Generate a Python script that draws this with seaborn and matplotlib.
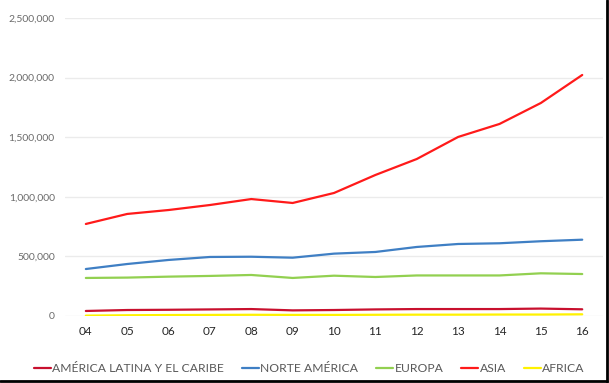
import matplotlib
matplotlib.use("Agg")
import matplotlib.pyplot as plt
import matplotlib.ticker as mticker
from matplotlib.lines import Line2D
import pandas as pd
import seaborn as sns

years = ["04", "05", "06", "07", "08", "09", "10", "11", "12", "13", "14", "15", "16"]

latam = [42000, 50000, 52000, 55000, 58000, 47000, 50000, 55000, 58000, 58000, 58000, 62000, 56000]
norte_america = [394000, 436000, 470000, 495000, 497000, 489000, 523000, 537000, 579000, 604000, 610000, 627000, 640000]
europa = [319000, 322000, 330000, 336000, 344000, 319000, 338000, 327000, 340000, 340000, 340000, 358000, 352000]
asia = [772000, 856000, 889000, 931000, 981000, 948000, 1032000, 1183000, 1317000, 1502000, 1611000, 1787000, 2022000]
africa = [3000, 6000, 8000, 9000, 10000, 9000, 9000, 10000, 11000, 11000, 12000, 12000, 14000]

series_names = ["AMÉRICA LATINA Y EL CARIBE", "NORTE AMÉRICA", "EUROPA", "ASIA", "AFRICA"]
series_values = [latam, norte_america, europa, asia, africa]
colors = ["#C8102E", "#3F7FC4", "#92D050", "#FF1A1A", "#FFF200"]

rows = []
for name, vals in zip(series_names, series_values):
    for i, (yr, v) in enumerate(zip(years, vals)):
        rows.append({"pos": i, "year": yr, "region": name, "value": v})
df = pd.DataFrame(rows)

sns.set_style("white")
plt.rcParams["font.family"] = ["Lato", "DejaVu Sans"]

fig = plt.figure(figsize=(6.09, 3.83), dpi=100)
ax = fig.add_axes([0.107, 0.175, 0.883, 0.778])

sns.lineplot(data=df, x="pos", y="value", hue="region", hue_order=series_names,
             palette=colors, linewidth=1.6, ax=ax, legend=False, zorder=3)

ax.set_xlim(-0.5, len(years) - 0.5)
ax.set_ylim(0, 2500000)
ax.set_yticks(range(0, 2500001, 500000))
ax.yaxis.set_major_formatter(mticker.FuncFormatter(lambda v, p: f"{int(v):,}"))
ax.set_xticks(range(len(years)))
ax.set_xticklabels(years)
ax.grid(axis="y", color="#EBEBEB", linewidth=1)
ax.grid(axis="x", visible=False)
for s in ax.spines.values():
    s.set_visible(False)
ax.tick_params(axis="y", length=0, labelsize=7.5, labelcolor="#6b6b6b", pad=7.5)
ax.tick_params(axis="x", length=0, labelsize=8.5, labelcolor="#262626", pad=7)
ax.set_xlabel("")
ax.set_ylabel("")

handles = [Line2D([0], [0], color=c, linewidth=1.6) for c in colors]
fig.legend(handles, series_names, loc="center", bbox_to_anchor=(0.508, 0.037),
           ncol=5, frameon=False, handlelength=1.4, handletextpad=0.1,
           columnspacing=1.5, fontsize=8.7, labelcolor="#595959")

# frame on right and bottom edges
fig.add_artist(Line2D([0.997, 0.997], [0.003, 1], transform=fig.transFigure, color="black", linewidth=2))
fig.add_artist(Line2D([0, 0.997], [0.004, 0.004], transform=fig.transFigure, color="black", linewidth=2))

fig.savefig("out.png", dpi=100)
